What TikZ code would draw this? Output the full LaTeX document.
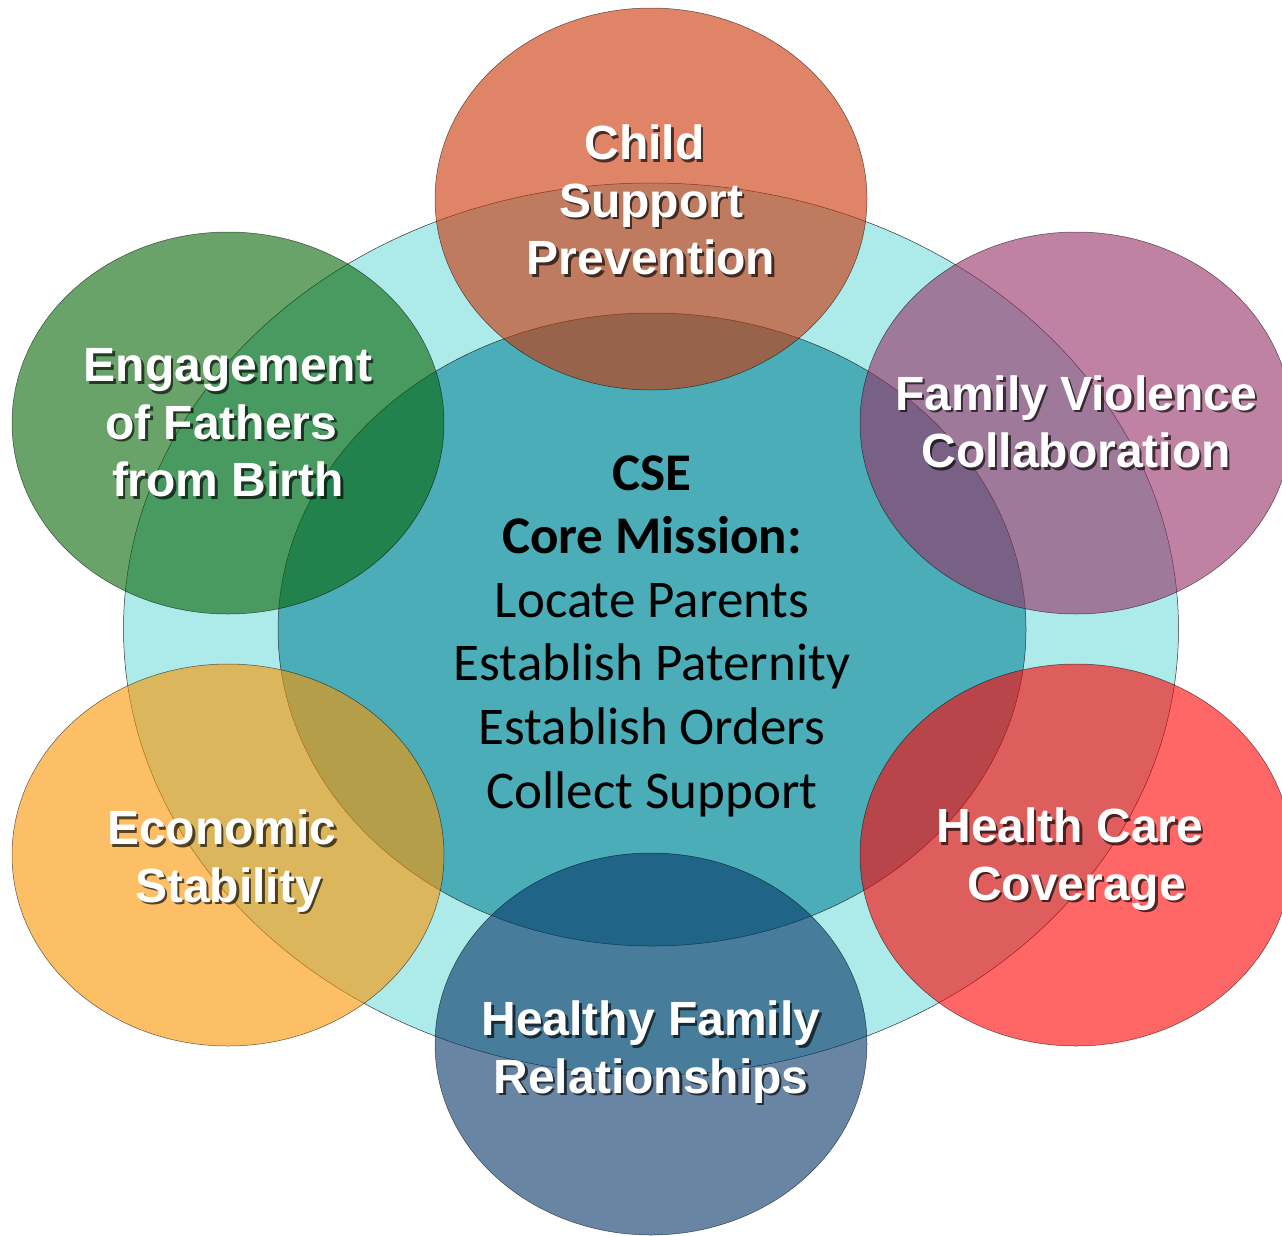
\documentclass[tikz,border=0pt]{standalone}
\usepackage{fontspec}
\usetikzlibrary{shapes.geometric}
\usetikzlibrary{calc}
\newfontfamily\ringfont{Liberation Sans}
\newfontfamily\corefont{Carlito}
\definecolor{ringcyan}{HTML}{ADEAEA}
\definecolor{coreteal}{HTML}{4BADB7}
\definecolor{cspred}{RGB}{203,50,3}
\definecolor{fvcpurple}{RGB}{150,47,100}
\definecolor{hccred}{RGB}{255,0,0}
\definecolor{hfrblue}{RGB}{4,53,103}
\definecolor{ecsorange}{RGB}{252,148,0}
\definecolor{efbgreen}{RGB}{5,102,7}
\tikzset{
every picture/.style={x=1pt, y=-1pt},
%%%%%%%%%%  Ellipse styles
ring/.style={ellipse, draw=black!80, line width=0.5pt, inner sep=0},
bubble/.style={ellipse, draw=black, draw opacity=0.6, line width=0.5pt,
               fill=#1, fill opacity=0.6, inner sep=0,
               minimum width=432, minimum height=382},
%%%%%%%%%%  Text styles
ringtext/.style={font=\ringfont\bfseries\fontsize{48}{57.5}\selectfont,
                 text=white, align=center, inner sep=0},
coretext/.style={font=\corefont\fontsize{53}{63.6}\selectfont,
                 text=black, align=center, inner sep=0}
}
% white label with a soft dark shadow
\newcommand{\ringlabel}[3]{%
  \node[ringtext, text=black, text opacity=0.65] at ($(#2)+(2.5,2.5)$) {#3};
  \node[ringtext] (#1) at (#2) {#3};
}
\newcommand{\tsp}{\hphantom{\ }}

\begin{document}
\begin{tikzpicture}
\useasboundingbox (0,0) rectangle (1282,1235);
\clip (0,0) rectangle (1282,1235);
\node[ring, fill=ringcyan, minimum width=1055, minimum height=892] (outer) at (651,629) {};
\node[ring, fill=coreteal, minimum width=748, minimum height=633] (core) at (652,629.5) {};
\node[bubble=cspred] (csp) at (651,199) {};
\node[bubble=fvcpurple] (fvc) at (1076,423) {};
\node[bubble=hccred] (hcc) at (1076,855) {};
\node[bubble=hfrblue] (hfr) at (651,1044) {};
\node[bubble=ecsorange] (ecs) at (228,855) {};
\node[bubble=efbgreen] (efb) at (228,423) {};
\ringlabel{csplabel}{651,200}{Child\tsp\\Support\\Prevention}
\ringlabel{fvclabel}{1076,422}{Family Violence\\Collaboration}
\ringlabel{hcclabel}{1076.5,859}{Health Care\tsp\\Coverage}
\ringlabel{hfrlabel}{651,1052}{Healthy Family\\Relationships}
\ringlabel{ecslabel}{228.5,861}{Economic\tsp\\Stability}
\ringlabel{efblabel}{228,423}{Engagement\\of Fathers\tsp\\from Birth}
\node[coretext] (mission) at (652,636) {\textbf{CSE}\\\textbf{Core Mission:}\\Locate Parents\\Establish Paternity\\Establish Orders\\Collect Support};
\end{tikzpicture}
\end{document}
